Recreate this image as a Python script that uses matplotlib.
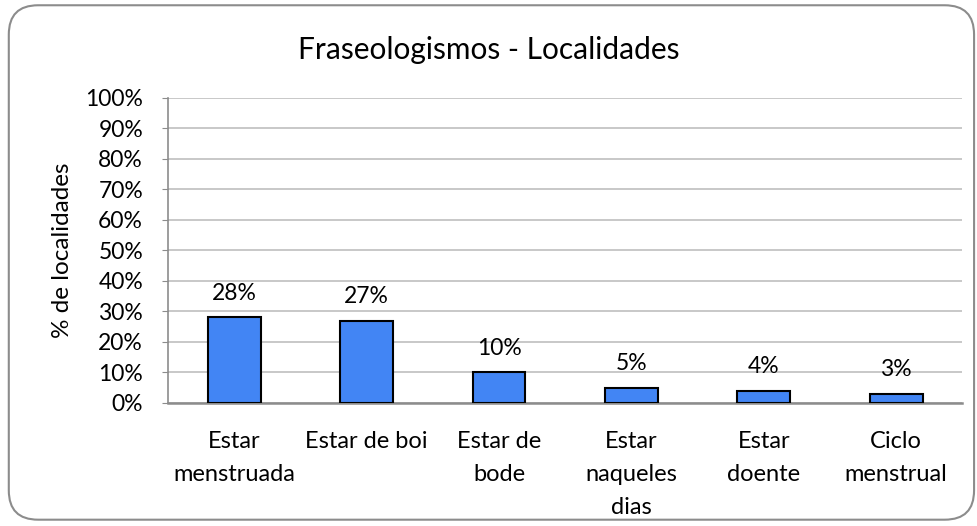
import matplotlib.pyplot as plt
from matplotlib.patches import FancyBboxPatch
from matplotlib.ticker import PercentFormatter

plt.rcParams['font.family'] = ['Lato', 'DejaVu Sans']

categorias = ['Estar\nmenstruada', 'Estar de boi', 'Estar de\nbode',
              'Estar\nnaqueles\ndias', 'Estar\ndoente', 'Ciclo\nmenstrual']
percentuais = [0.28, 0.27, 0.10, 0.05, 0.04, 0.03]
yticks = [i / 10 for i in range(11)]

fig = plt.figure(figsize=(9.77, 5.26), dpi=100)

# moldura arredondada do grafico
moldura = FancyBboxPatch((0.009, 0.012), 0.988, 0.978,
                         boxstyle='round,pad=0,rounding_size=0.03',
                         transform=fig.transFigure, facecolor='none',
                         edgecolor='#8c8c8c', linewidth=1.5,
                         mutation_aspect=977 / 526, zorder=5)
fig.patches.append(moldura)

ax = fig.add_axes([0.172, 0.234, 0.813, 0.580])
x = range(len(categorias))
barras = ax.bar(x, percentuais, width=0.4, color='#4285f4',
                edgecolor='black', linewidth=1.5, zorder=3)

for b, v in zip(barras, percentuais):
    ax.annotate(f'{v:.0%}', (b.get_x() + b.get_width() / 2, v),
                xytext=(0, 10), textcoords='offset points',
                ha='center', va='bottom', fontsize=16.5)

ax.set_ylim(0, 1)
ax.set_xlim(-0.5, len(categorias) - 0.5)
ax.set_yticks(yticks)
ax.yaxis.set_major_formatter(PercentFormatter(1.0, decimals=0))
ax.set_xticks(list(x))
ax.set_xticklabels(categorias, fontsize=17, linespacing=1.72)
ax.tick_params(axis='y', labelsize=16.5, length=4, color='#8c8c8c', pad=14)
ax.tick_params(axis='x', length=0, pad=20)
ax.grid(axis='y', color='#bfbfbf', linewidth=1.2, zorder=0)

for lado in ['top', 'right']:
    ax.spines[lado].set_visible(False)
ax.spines['left'].set_color('#8c8c8c')
ax.spines['bottom'].set_color('#8c8c8c')
ax.spines['left'].set_linewidth(1.2)
ax.spines['bottom'].set_linewidth(1.8)

ax.set_ylabel('% de localidades', fontsize=17.5, labelpad=9)
fig.text(0.5, 0.905, 'Fraseologismos - Localidades', ha='center',
         va='center', fontsize=21.5)

fig.savefig('out.png', dpi=100)
